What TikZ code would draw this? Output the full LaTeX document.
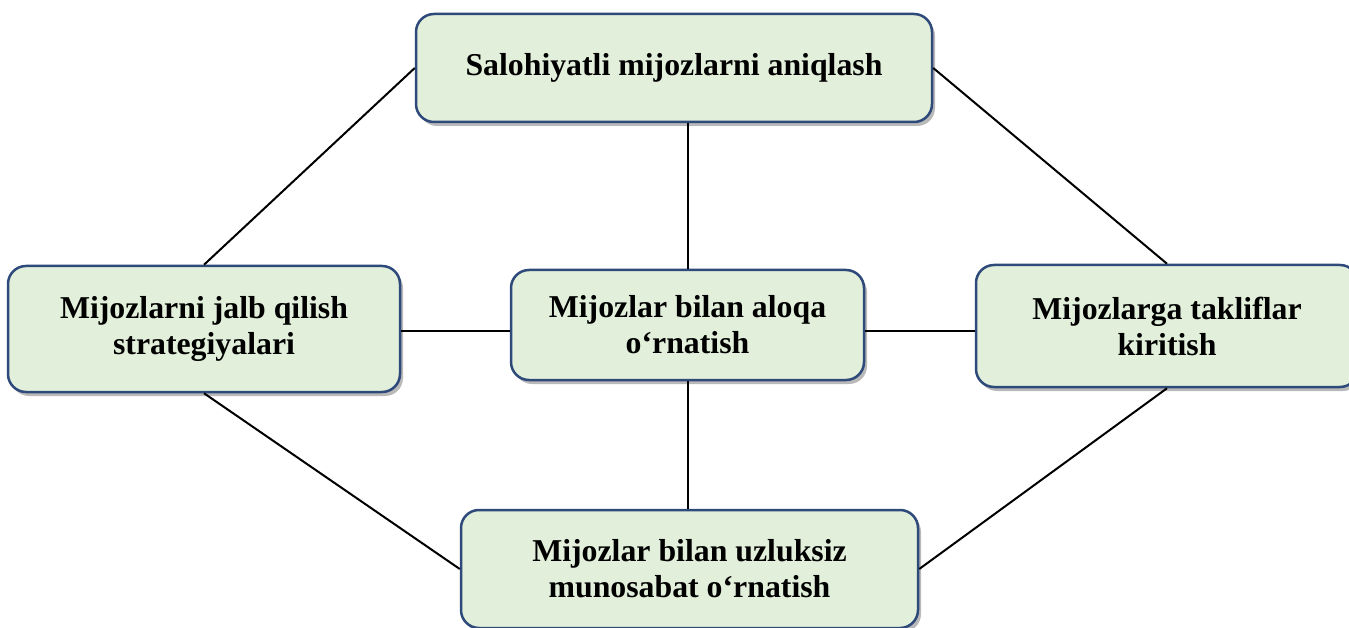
\documentclass[tikz,border=0pt]{standalone}
\usepackage{fontspec}
\setmainfont{Liberation Serif}
\usetikzlibrary{shadows}
\definecolor{boxfill}{HTML}{E2EFDA}
\definecolor{boxline}{HTML}{2E4A7A}
\tikzset{
  box/.style={draw=boxline, line width=2.5pt, fill=boxfill, rounded corners=18pt,
    drop shadow={shadow xshift=3pt, shadow yshift=-4pt, opacity=0.5, fill=black!55},
    align=center, inner sep=0pt,
    font=\fontsize{31.8}{36}\selectfont\bfseries},
  conn/.style={line width=2pt, draw=black}
}
\begin{document}
\begin{tikzpicture}[x=1pt,y=-1pt]
\useasboundingbox (0,0) rectangle (1349,628);
\node[box, minimum width=516pt, minimum height=108pt] (top) at (674,68) {Salohiyatli mijozlarni aniqlash};
\node[box, minimum width=392pt, minimum height=126pt] (left) at (204,329) {Mijozlarni jalb qilish\\strategiyalari};
\node[box, minimum width=353pt, minimum height=110pt] (mid) at (687.5,325) {Mijozlar bilan aloqa\\o‘rnatish};
\node[box, minimum width=382pt, minimum height=122pt] (right) at (1167,326) {Mijozlarga takliflar\\kiritish};
\node[box, minimum width=457pt, minimum height=118pt] (bot) at (689.5,569) {Mijozlar bilan uzluksiz\\munosabat o‘rnatish};
\draw[conn] (top.west) -- (left.north);
\draw[conn] (top.east) -- (right.north);
\draw[conn] (left.south) -- (bot.west);
\draw[conn] (right.south) -- (bot.east);
\draw[conn] (mid.north) -- (mid.north |- top.south);
\draw[conn] (mid.south) -- (mid.south |- bot.north);
\draw[conn] ([yshift=-6pt]mid.west) -- ([yshift=-6pt]mid.west -| left.east);
\draw[conn] ([yshift=-6pt]mid.east) -- ([yshift=-6pt]mid.east -| right.west);
\end{tikzpicture}
\end{document}
